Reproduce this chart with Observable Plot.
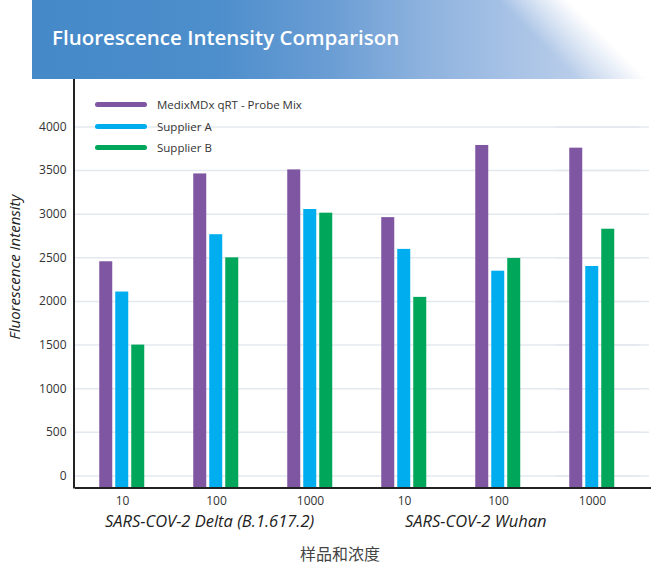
<!DOCTYPE html>
<html>
<head>
<meta charset="utf-8">
<script src="https://cdn.jsdelivr.net/npm/d3@7"></script>
<script src="https://cdn.jsdelivr.net/npm/@observablehq/plot@0.6"></script>
<style>
  html, body { margin: 0; padding: 0; background: #fff; }
  #wrap { position: relative; width: 652px; height: 565px; overflow: hidden; font-family: "Open Sans", "Noto Sans", sans-serif; }
  #banner { position: absolute; left: 32px; top: 0; width: 620px; height: 79px;
    background:
      linear-gradient(45deg, rgba(255,255,255,0) 78%, rgba(255,255,255,1) 88%),
      linear-gradient(to right, #4589c8 0%, #4d8ecc 30%, #6a9dd4 48%, #8db2de 63%, #a8c3e6 78%, #bccfea 90%);
  }
  #title { position: absolute; left: 20px; top: 27px; font-size: 20.5px; line-height: 20px; font-weight: 600; color: #fff; white-space: nowrap; }
  #chart { position: absolute; left: 0; top: 79px; }
  .leg { position: absolute; left: 95px; height: 14px; display: flex; align-items: center; font-size: 11.5px; font-weight: 500; color: #333; white-space: nowrap; }
  .sw { width: 52px; height: 5px; border-radius: 3px; margin-right: 10px; }
  .grp { position: absolute; font-style: italic; font-size: 16.5px; line-height: 20px; color: #222; white-space: nowrap; }
  #xlab { position: absolute; left: 340px; top: 545px; transform: translateX(-50%); font-family: "Noto Sans CJK SC", sans-serif; font-size: 16px; line-height: 16px; color: #444; white-space: nowrap; }
  #ylab { position: absolute; left: 14px; top: 266.5px; transform: translate(-50%, -50%) rotate(-90deg); font-style: italic; font-size: 15px; color: #222; white-space: nowrap; }
</style>
</head>
<body>
<div id="wrap">
  <div id="banner"><div id="title"></div></div>
  <div id="chart"></div>
  <div id="legend"></div>
  <div id="groups"></div>
  <div id="ylab"></div>
  <div id="xlab"></div>
</div>
<script>
const title = "Fluorescence Intensity Comparison";
const yLabel = "Fluorescence Intensity";
const xLabel = "样品和浓度";
const groups = ["SARS-COV-2 Delta (B.1.617.2)", "SARS-COV-2 Wuhan"];
const concentrations = ["10", "100", "1000"];
const series = ["MedixMDx qRT - Probe Mix", "Supplier A", "Supplier B"];
const colors = ["#7f56a1", "#00aeef", "#00a65a"];
// values per sample, order: Delta 10, 100, 1000, Wuhan 10, 100, 1000
const medix     = [2455, 3462, 3508, 2961, 3788, 3757];
const supplierA = [2108, 2765, 3054, 2597, 2347, 2401];
const supplierB = [1500, 2500, 3012, 2047, 2493, 2828];
const yTicks = [0, 500, 1000, 1500, 2000, 2500, 3000, 3500, 4000];

const seriesValues = [medix, supplierA, supplierB];
const samples = [];
groups.forEach((g, gi) => concentrations.forEach((c, ci) => samples.push({key: gi * 3 + ci, group: g, conc: c})));
const data = [];
samples.forEach((s, i) => series.forEach((name, si) => data.push({key: s.key, series: name, value: seriesValues[si][i]})));

document.getElementById("title").textContent = title;
document.getElementById("ylab").textContent = yLabel;
document.getElementById("xlab").textContent = xLabel;

const legend = document.getElementById("legend");
const legendTops = [97.3, 119, 140.7];
series.forEach((name, i) => {
  const row = document.createElement("div");
  row.className = "leg";
  row.style.top = legendTops[i] + "px";
  const sw = document.createElement("div");
  sw.className = "sw";
  sw.style.background = colors[i];
  row.appendChild(sw);
  row.appendChild(document.createTextNode(name));
  legend.appendChild(row);
});

const grpEl = document.getElementById("groups");
const grpLefts = [105, 405];
groups.forEach((g, i) => {
  const d = document.createElement("div");
  d.className = "grp";
  d.style.left = grpLefts[i] + "px";
  d.style.top = "511px";
  d.textContent = g;
  grpEl.appendChild(d);
});

const yDomain = [-132, 4544];
const gridStyle = {stroke: "#e4e8ef", strokeOpacity: 1, strokeWidth: 1.5};
const axisStyle = {stroke: "#222", strokeWidth: 2, dy: 0.5};
const chart = Plot.plot({
  width: 652,
  height: 486,
  marginTop: 0,
  marginBottom: 78,
  marginLeft: 73.75,
  marginRight: 11.25,
  style: {fontFamily: "'Open Sans', 'Noto Sans', sans-serif", fontSize: "12px", color: "#333", background: "transparent"},
  fx: {domain: samples.map(s => s.key), padding: 0, label: null, tickSize: 0, tickPadding: 9,
       tickFormat: k => samples[k].conc},
  x: {domain: series, paddingInner: 0.2, paddingOuter: 1.41, axis: null},
  y: {domain: yDomain},
  color: {domain: series, range: colors},
  marks: [
    Plot.gridY(yTicks, gridStyle),
    Plot.gridY(yTicks, {...gridStyle, facetAnchor: "right", dx: 10}),
    Plot.barY(data, {fx: "key", x: "series", y: "value", fill: "series", insetBottom: -11.5}),
    Plot.ruleY([yDomain[0]], axisStyle),
    Plot.ruleY([yDomain[0]], {...axisStyle, facetAnchor: "right", dx: 12}),
    Plot.frame({anchor: "left", facetAnchor: "left", stroke: "#222", strokeWidth: 2, dx: -1.5}),
    Plot.axisY(yTicks, {tickSize: 0, tickPadding: 9, tickFormat: d => String(d), label: null, fill: "#333"})
  ]
});
document.getElementById("chart").appendChild(chart);
</script>
</body>
</html>
